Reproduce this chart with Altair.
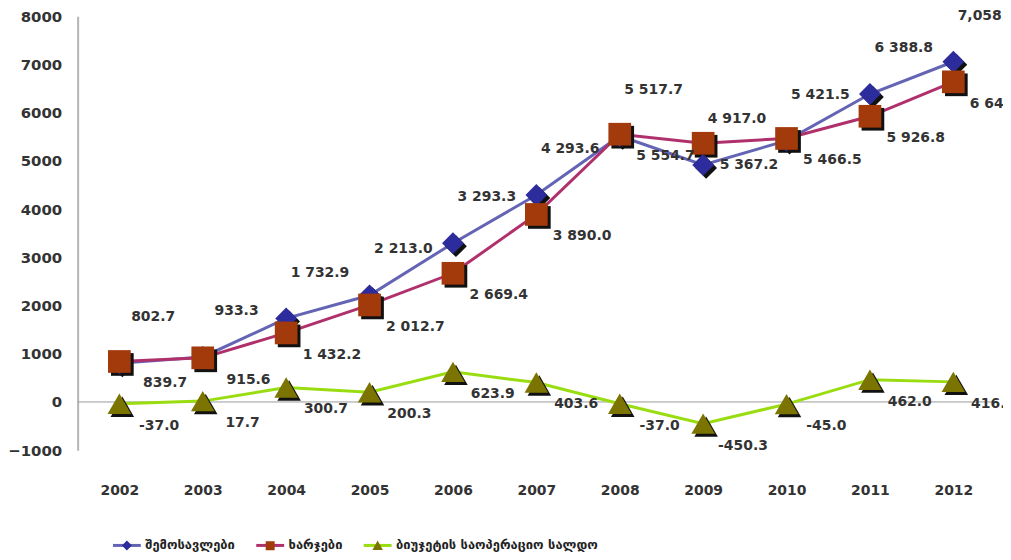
import altair as alt
import pandas as pd

years = ["2002", "2003", "2004", "2005", "2006", "2007", "2008", "2009", "2010", "2011", "2012"]
revenue = [802.7, 933.3, 1732.9, 2213.0, 3293.3, 4293.6, 5517.7, 4917.0, 5421.5, 6388.8, 7058.2]
expenditure = [839.7, 915.6, 1432.2, 2012.7, 2669.4, 3890.0, 5554.7, 5367.2, 5466.5, 5926.8, 6641.5]
balance = [-37.0, 17.7, 300.7, 200.3, 623.9, 403.6, -37.0, -450.3, -45.0, 462.0, 416.7]
revenue_labels = ["802.7", "933.3", "1 732.9", "2 213.0", "3 293.3", "4 293.6", "5 517.7", "4 917.0", "5 421.5", "6 388.8", "7,058.2"]
expenditure_labels = ["839.7", "915.6", "1 432.2", "2 012.7", "2 669.4", "3 890.0", "5 554.7", "5 367.2", "5 466.5", "5 926.8", "6 641.5"]
balance_labels = ["-37.0", "17.7", "300.7", "200.3", "623.9", "403.6", "-37.0", "-450.3", "-45.0", "462.0", "416.7"]
y_ticks = [-1000, 0, 1000, 2000, 3000, 4000, 5000, 6000, 7000, 8000]

s_rev = "შემოსავლები"
s_exp = "ხარჯები"
s_bal = "ბიუჯეტის საოპერაციო სალდო"
order = [s_rev, s_exp, s_bal]

rows = []
for name, vals, labs in [(s_rev, revenue, revenue_labels), (s_exp, expenditure, expenditure_labels), (s_bal, balance, balance_labels)]:
    for yr, v, l in zip(years, vals, labs):
        rows.append({"year": yr, "series": name, "value": v, "label": l})
df = pd.DataFrame(rows)

FONT = "DejaVu Sans"
line_colors = ["#6464b4", "#b0306c", "#99dd11"]
marker_colors = ["#2c2c9c", "#a23a0c", "#7b7400"]
shapes = ["diamond", "square", "triangle-up"]
sizes = [480, 560, 740]
# legend marker glyphs, padded with invisible end points so they span the same width as the line glyph
legend_shapes = [
    "M-2.8,0H-2.79M0,-1L1,0L0,1L-1,0ZM2.79,0H2.8",
    "M-2.8,0H-2.79M-0.9,-0.9H0.9V0.9H-0.9ZM2.79,0H2.8",
    "M-2.8,0H-2.79M0,-1.1L1.05,0.8H-1.05ZM2.79,0H2.8",
]

x_enc = alt.X("year:N", scale=alt.Scale(type="point", padding=0.5),
              axis=alt.Axis(title=None, domain=False, ticks=False, labelAngle=0, labelPadding=34,
                            labelFont=FONT, labelFontWeight="bold", labelFontSize=14, labelColor="#333333"))
y_enc = alt.Y("value:Q", scale=alt.Scale(domain=[-1000, 8000], nice=False, zero=False),
              axis=alt.Axis(title=None, values=y_ticks, format="d", grid=False, ticks=False,
                            domainColor="#b4b4b4", domainWidth=2, labelPadding=16, labelFont=FONT,
                            labelFontWeight="bold", labelFontSize=15, labelColor="#333333"))

legend_common = dict(title=None, orient="none", direction="horizontal", legendX=43, legendY=525,
                     symbolSize=100, labelOffset=12, symbolStrokeWidth=3,
                     labelFont=FONT, labelFontSize=13, labelFontWeight="bold", labelColor="#222222",
                     columnPadding=14, labelLimit=0, padding=0)
L_lines = alt.Legend(symbolType="M-2.8,0H2.8", **legend_common)
L_points = alt.Legend(symbolStrokeColor="transparent", labelOpacity=0, **legend_common)

base = alt.Chart(df)

zero_rule = alt.Chart(pd.DataFrame({"v": [0]})).mark_rule(color="#9a9a9a", strokeWidth=1).encode(y="v:Q")

lines = base.mark_line(strokeWidth=3).encode(
    x=x_enc, y=y_enc,
    color=alt.Color("series:N", scale=alt.Scale(domain=order, range=line_colors), legend=L_lines),
)

shape_scale = alt.Scale(domain=order, range=shapes)
size_enc = alt.Size("series:N", scale=alt.Scale(domain=order, range=sizes), legend=None)

shadow = base.mark_point(filled=True, opacity=1, color="#111111", xOffset=3, yOffset=3).encode(
    x=x_enc, y=y_enc,
    shape=alt.Shape("series:N", scale=shape_scale, legend=None),
    size=size_enc,
)

points = base.mark_point(filled=True, opacity=1).encode(
    x=x_enc, y=y_enc,
    color=alt.Color("series:N", scale=alt.Scale(domain=order, range=marker_colors), legend=None),
    shape=alt.Shape("series:N", scale=shape_scale, legend=None),
    size=size_enc,
)

# legend-only layer (no rows drawn): marker symbols over the line symbols
legend_points = base.transform_filter("false").mark_point(filled=True, opacity=1).encode(
    x=x_enc, y=y_enc,
    color=alt.Color("series:N", scale=alt.Scale(domain=order, range=marker_colors), legend=L_points),
    shape=alt.Shape("series:N", scale=alt.Scale(domain=order, range=legend_shapes), legend=L_points),
)

text_style = dict(font=FONT, fontWeight="bold", fontSize=14, color="#333333")
t_rev = base.transform_filter(alt.datum.series == s_rev).mark_text(dx=34, dy=-46, **text_style).encode(
    x=x_enc, y=y_enc, text="label:N")
t_exp = base.transform_filter(alt.datum.series == s_exp).mark_text(dx=46, dy=22, **text_style).encode(
    x=x_enc, y=y_enc, text="label:N")
t_bal = base.transform_filter(alt.datum.series == s_bal).mark_text(dx=40, dy=22, **text_style).encode(
    x=x_enc, y=y_enc, text="label:N")

chart = alt.layer(zero_rule, lines, shadow, points, legend_points, t_rev, t_exp, t_bal).resolve_scale(
    color="independent", shape="independent", size="independent"
).properties(
    width=922, height=436,
    autosize=alt.AutoSizeParams(type="none"),
    padding={"left": 70, "top": 7, "right": 8, "bottom": 106},
).configure_view(stroke=None)

chart.save("out.html", embed_options={"renderer": "svg", "actions": False})
